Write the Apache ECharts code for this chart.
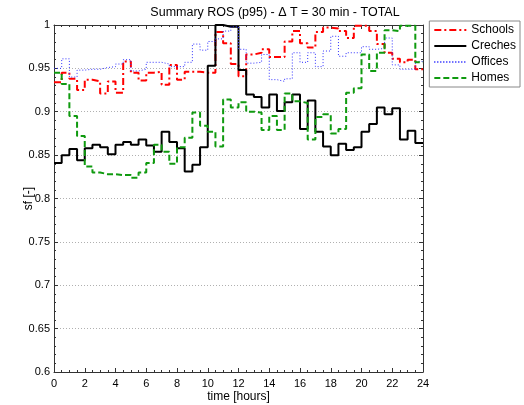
<!doctype html>
<html lang="en">
<head>
<meta charset="utf-8">
<title>Summary ROS (p95)</title>
<script src="https://cdn.jsdelivr.net/npm/echarts@6/dist/echarts.min.js"></script>
<style>
  html, body { margin: 0; padding: 0; background: #fff; }
  #main { width: 524px; height: 405px; }
</style>
</head>
<body>
<div id="main"></div>
<script>
// half-hour values, one per 30 min step from 0 h to 23.5 h
var stepHours = 0.5;
var seriesNames = ['Schools', 'Creches', 'Offices', 'Homes'];

var schools = [0.934, 0.945, 0.938, 0.925, 0.937, 0.935, 0.921, 0.935, 0.922, 0.958, 0.945, 0.936,
               0.945, 0.946, 0.931, 0.954, 0.937, 0.946, 0.946, 0.945, 0.945, 0.992, 0.979, 0.955,
               0.941, 0.966, 0.968, 0.972, 0.963, 0.963, 0.981, 0.993, 0.979, 0.974, 0.992, 0.997,
               0.996, 0.993, 0.985, 0.999, 0.999, 0.993, 0.978, 0.968, 0.961, 0.957, 0.960, 0.949];

var creches = [0.841, 0.850, 0.857, 0.844, 0.858, 0.862, 0.859, 0.851, 0.862, 0.865, 0.862, 0.868,
               0.861, 0.854, 0.877, 0.865, 0.858, 0.831, 0.839, 0.859, 0.953, 1.000, 0.998, 0.998,
               0.948, 0.920, 0.917, 0.905, 0.920, 0.901, 0.911, 0.920, 0.880, 0.913, 0.877, 0.860,
               0.850, 0.863, 0.856, 0.859, 0.877, 0.886, 0.905, 0.897, 0.904, 0.868, 0.878, 0.864];

var offices = [0.950, 0.961, 0.940, 0.948, 0.949, 0.949, 0.951, 0.952, 0.955, 0.960, 0.947, 0.949,
               0.957, 0.957, 0.955, 0.952, 0.952, 0.957, 0.978, 0.971, 0.981, 0.984, 0.993, 0.998,
               0.972, 0.956, 0.957, 0.966, 0.937, 0.935, 0.938, 0.968, 0.957, 0.968, 0.952, 0.970,
               0.987, 0.964, 0.968, 0.968, 0.975, 0.972, 0.973, 0.985, 0.954, 0.949, 0.949, 0.958];

var homes = [0.945, 0.932, 0.895, 0.872, 0.837, 0.830, 0.828, 0.828, 0.827, 0.827, 0.824, 0.830,
             0.841, 0.862, 0.854, 0.840, 0.859, 0.870, 0.899, 0.884, 0.877, 0.860, 0.914, 0.905,
             0.911, 0.900, 0.899, 0.879, 0.895, 0.879, 0.921, 0.912, 0.910, 0.868, 0.894, 0.897,
             0.875, 0.880, 0.922, 0.927, 0.966, 0.947, 0.968, 0.994, 0.993, 0.999, 0.999, 0.957];

// stairs: each value holds for its half hour, last one runs on to 24 h
function stairs(vals) {
    var pts = [];
    for (var i = 0; i < vals.length; i++) {
        pts.push([i * stepHours, vals[i]]);
    }
    pts.push([vals.length * stepHours, vals[vals.length - 1]]);
    return pts;
}

var axisColor = '#333';
var font = 'Liberation Sans, Arial, sans-serif';

function xAx(pos, showLabels) {
    return {
        type: 'value', position: pos, min: 0, max: 24, interval: 2,
        axisLine: { show: true, onZero: false, lineStyle: { color: axisColor, width: 1 } },
        axisTick: { show: true, inside: true, length: 4, lineStyle: { color: axisColor } },
        minorTick: { show: true, splitNumber: 4, length: 2, lineStyle: { color: axisColor } },
        axisLabel: { show: showLabels, color: '#000', fontSize: 11, fontFamily: font, margin: 6 },
        splitLine: { show: false },
        name: showLabels ? 'time [hours]' : '',
        nameLocation: 'middle', nameGap: 19, nameMoveOverlap: false,
        nameTextStyle: { color: '#000', fontSize: 12, fontFamily: font }
    };
}

function yAx(pos, showLabels) {
    return {
        type: 'value', position: pos, min: 0.6, max: 1, interval: 0.05,
        axisLine: { show: true, onZero: false, lineStyle: { color: axisColor, width: 1 } },
        axisTick: { show: true, inside: true, length: 4, lineStyle: { color: axisColor } },
        minorTick: { show: true, splitNumber: 5, length: 2, lineStyle: { color: axisColor } },
        axisLabel: { show: showLabels, color: '#000', fontSize: 11, fontFamily: font, margin: 4 },
        splitLine: { show: showLabels, lineStyle: { color: '#b0b0b0', type: [1, 2], width: 1 } },
        name: showLabels ? 'sf [-]' : '',
        nameLocation: 'middle', nameGap: 19, nameRotate: 90, nameMoveOverlap: false,
        nameTextStyle: { color: '#000', fontSize: 12, fontFamily: font }
    };
}

var styles = {
    Schools: { color: '#ff0000', width: 2, type: [7, 3, 2, 3] },
    Creches: { color: '#000000', width: 2, type: 'solid' },
    Offices: { color: '#3030ff', width: 1, type: [1, 2] },
    Homes:   { color: '#0f9a0f', width: 2, type: [6, 3] }
};
var dataByName = { Schools: schools, Creches: creches, Offices: offices, Homes: homes };

var chart = echarts.init(document.getElementById('main'), null, { renderer: 'canvas' });

var option = {
    animation: false,
    backgroundColor: '#fff',
    title: {
        text: 'Summary ROS (p95) - \u0394 T = 30 min - TOTAL',
        left: 270, top: 1, textAlign: 'center',
        textStyle: { color: '#000', fontSize: 12.5, fontWeight: 'normal', fontFamily: font }
    },
    grid: { left: 54, right: 101, top: 25, bottom: 33, containLabel: false, outerBoundsMode: 'none' },
    legend: {
        orient: 'vertical', right: 4, top: 21,
        data: seriesNames,
        itemWidth: 32, itemHeight: 10, itemGap: 4,
        padding: [3, 4, 3, 4],
        borderColor: '#888', borderWidth: 1, backgroundColor: '#fff',
        itemStyle: { color: 'rgba(0,0,0,0)', borderWidth: 0 },
        textStyle: { color: '#000', fontSize: 12, fontFamily: font }
    },
    xAxis: [xAx('bottom', true), xAx('top', false)],
    yAxis: [yAx('left', true), yAx('right', false)],
    series: seriesNames.map(function (name) {
        var s = styles[name];
        return {
            name: name, type: 'line', step: 'end', symbol: 'none',
            xAxisIndex: 0, yAxisIndex: 0,
            color: s.color,
            lineStyle: { color: s.color, width: s.width, type: s.type },
            data: stairs(dataByName[name])
        };
    })
};

chart.setOption(option);
</script>
</body>
</html>
